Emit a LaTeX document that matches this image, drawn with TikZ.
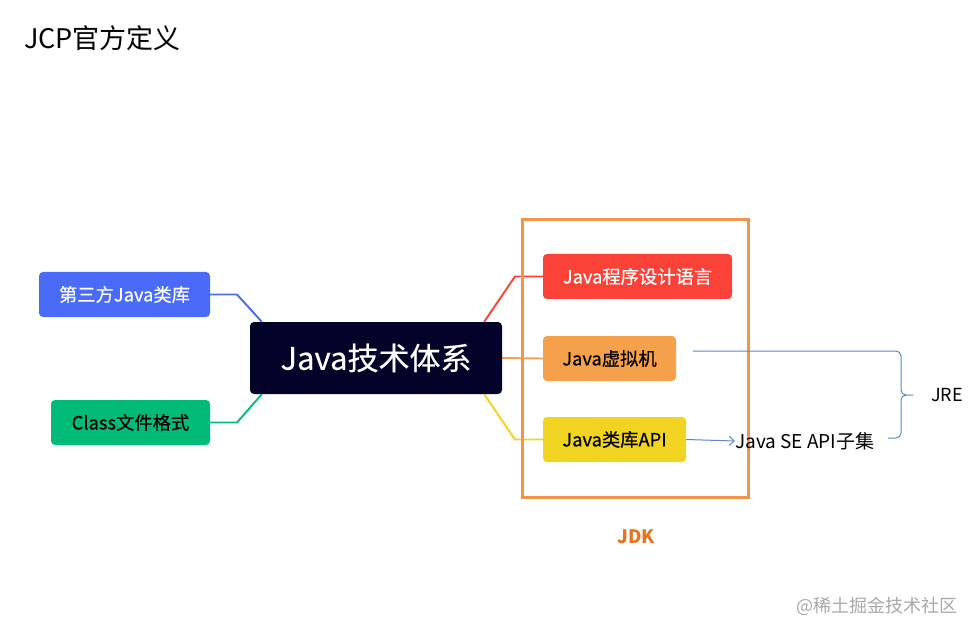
\documentclass[tikz,border=0pt]{standalone}
\usepackage{fontspec}
\setmainfont{Noto Sans CJK SC}
\newfontfamily\boxfont[FakeBold=0.4]{Noto Sans CJK SC}
\usetikzlibrary{arrows.meta}
\pgfdeclarelayer{bg}
\pgfsetlayers{bg,main}
\definecolor{cBlue}{HTML}{4A6AF8}
\definecolor{cGreen}{HTML}{00BA78}
\definecolor{cCore}{HTML}{03032A}
\definecolor{cRed}{HTML}{FA4238}
\definecolor{cOrange}{HTML}{F5A04B}
\definecolor{cYellow}{HTML}{F1D422}
\definecolor{cJdk}{HTML}{F0964C}
\definecolor{cJdkText}{HTML}{E8731E}
\definecolor{cLine}{HTML}{5B87C0}
\definecolor{cMark}{HTML}{A8A8A8}
\begin{document}
\begin{tikzpicture}[x=1pt,y=-1pt,
  box/.style={rounded corners=4pt, minimum height=45pt, inner sep=0pt, font=\boxfont\fontsize{18.3}{20}\selectfont},
  conn/.style={line width=1.9pt},
  jreline/.style={cLine, line width=1pt},
]
\useasboundingbox (0,0) rectangle (977,636);
\node[anchor=west, font=\fontsize{27}{30}\selectfont, inner sep=0pt] (title) at (24,38) {JCP官方定义};
% left
\node[box, fill=cBlue, text=white, minimum width=171pt] (third) at (124.5,294.5) {第三方Java类库};
\node[box, fill=cGreen, text=black, minimum width=159pt] (cls) at (130.5,422.5) {Class文件格式};
% core
\node[box, fill=cCore, text=white, minimum width=252pt, minimum height=72pt, font=\boxfont\fontsize{31}{34}\selectfont] (core) at (376,358) {Java技术体系};
% JDK frame
\node[draw=cJdk, line width=3pt, minimum width=226pt, minimum height=277pt, inner sep=0pt] (jdk) at (635,358.5) {};
\node[font=\fontsize{18.5}{20}\selectfont\bfseries, text=cJdkText, inner sep=0pt] (jdklabel) at (636,537) {JDK};
% right boxes
\node[box, fill=cRed, text=white, minimum width=189pt] (lang) at (637.5,276.5) {Java程序设计语言};
\node[box, fill=cOrange, text=black, minimum width=133pt] (vm) at (609.5,358.5) {Java虚拟机};
\node[box, fill=cYellow, text=black, minimum width=143pt] (api) at (614.5,439.5) {Java类库API};
% connectors
\begin{pgfonlayer}{bg}
\draw[conn, cBlue] (third.east) -- (237,294.5) -- ([xshift=12pt]core.north west);
\draw[conn, cGreen] (cls.east) -- (237,422.5) -- ([xshift=12pt]core.south west);
\draw[conn, cRed] ([xshift=-18pt]core.north east) -- (515,276.5) -- (lang.west);
\draw[conn, cOrange] (core.east) -- (vm.west);
\draw[conn, cYellow] ([xshift=-18pt]core.south east) -- (515,439.5) -- (api.west);
\end{pgfonlayer}
% JRE part
\node[anchor=west, font=\fontsize{19}{22}\selectfont, inner sep=0pt] (sub) at (735,441) {Java SE API子集};
\draw[jreline, -{Straight Barb[length=5pt,width=9pt]}] (api.east) -- (sub.west);
\coordinate (jreTop) at (693,351);
\coordinate (jreBot) at (888,438);
\coordinate (tip) at (913,395);
\draw[jreline] (jreTop) -- (896,351) to[out=0,in=90] (901,356) -- (901,390) to[out=-90,in=180] (906,395) -- (tip);
\draw[jreline] (jreBot) -- (896,438) to[out=0,in=-90] (901,433) -- (901,400) to[out=90,in=180] (906,395);
\node[anchor=west, font=\fontsize{18}{20}\selectfont, inner sep=0pt] (jre) at (931,395) {JRE};
% watermark
\node[anchor=east, font=\fontsize{18}{20}\selectfont, text=cMark, inner sep=0pt] (mark) at (958,606) {@稀土掘金技术社区};
\end{tikzpicture}
\end{document}
